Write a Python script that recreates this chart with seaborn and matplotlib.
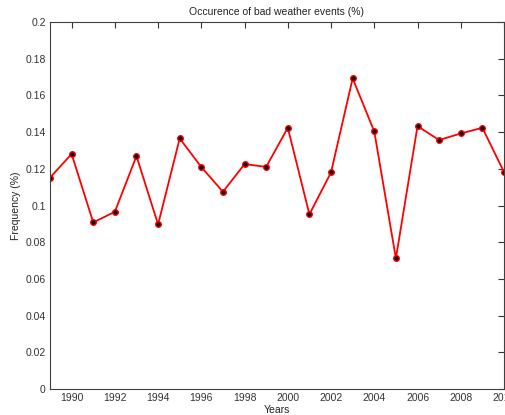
import matplotlib
matplotlib.use("Agg")
import matplotlib.pyplot as plt
import seaborn as sns
import pandas as pd
from matplotlib.ticker import FuncFormatter

years = list(range(1989, 2011))
frequency = [0.1152, 0.1281, 0.0908, 0.0966, 0.1270, 0.0897, 0.1366, 0.1210,
             0.1075, 0.1226, 0.1211, 0.1424, 0.0952, 0.1181, 0.1693, 0.1404,
             0.0712, 0.1433, 0.1357, 0.1393, 0.1424, 0.1183]
x_ticks = list(range(1990, 2011, 2))
y_ticks = [round(0.02 * i, 2) for i in range(11)]

df = pd.DataFrame({"Years": years, "Frequency": frequency})

sns.set_style("white")
plt.rcParams["font.family"] = ["Liberation Sans", "DejaVu Sans"]

fig = plt.figure(figsize=(5.05, 4.15), dpi=100)
ax = fig.add_axes([0.099, 0.0627, 0.899, 0.884])

sns.lineplot(data=df, x="Years", y="Frequency", ax=ax, color="red",
             linewidth=1.3, marker="o", markersize=4,
             markerfacecolor="black", markeredgecolor="red",
             markeredgewidth=1.0)

ax.set_xlim(1989, 2010)
ax.set_ylim(0, 0.2)
ax.set_xticks(x_ticks)
ax.set_yticks(y_ticks)
ax.yaxis.set_major_formatter(FuncFormatter(lambda v, p: "%g" % round(v, 4)))

ax.tick_params(direction="in", length=4, width=0.8, top=True, right=True,
               labelsize=7.5, colors="#333333", pad=3)
for s in ax.spines.values():
    s.set_color("#404040")
    s.set_linewidth(0.8)

ax.set_title("Occurence of bad weather events (%)", fontsize=7.5,
             color="#222222", pad=5)
ax.set_xlabel("Years", fontsize=7.5, color="#222222", labelpad=1)
ax.set_ylabel("Frequency (%)", fontsize=7.5, color="#222222", labelpad=3)

fig.savefig("out.png", dpi=100)
